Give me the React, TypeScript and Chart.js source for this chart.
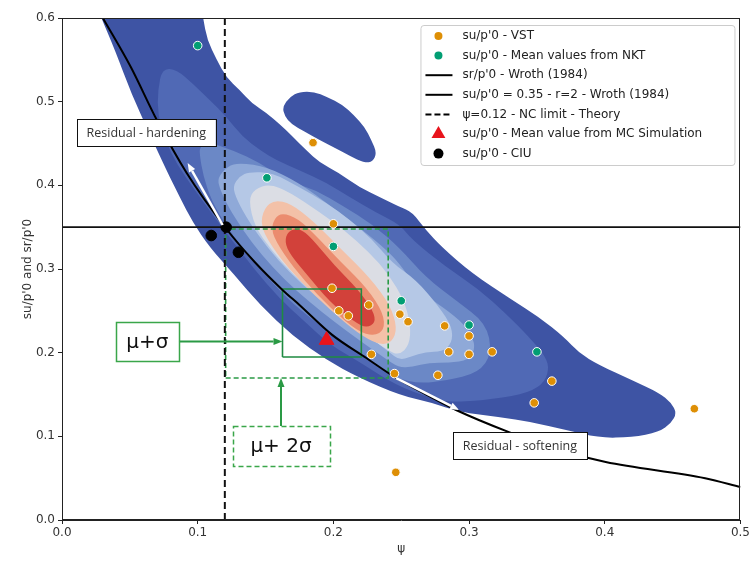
import React, { useEffect, useRef } from "react";
import { Chart, registerables } from "chart.js";

Chart.register(...registerables);

// ---------------- data ----------------
const VST_PSI = [0.185, 0.2, 0.199, 0.204, 0.211, 0.226, 0.228, 0.249, 0.255, 0.245, 0.282, 0.3, 0.285, 0.3, 0.317, 0.277, 0.361, 0.348, 0.466, 0.246];
const VST_SU = [0.451, 0.354, 0.277, 0.25, 0.244, 0.257, 0.198, 0.246, 0.237, 0.175, 0.232, 0.22, 0.201, 0.198, 0.201, 0.173, 0.166, 0.14, 0.133, 0.057];

const NKT_PSI = [0.1, 0.151, 0.2, 0.25, 0.3, 0.35];
const NKT_SU = [0.567, 0.409, 0.327, 0.262, 0.233, 0.201];

const CIU_PSI = [0.11, 0.121, 0.13];
const CIU_SU = [0.34, 0.35, 0.32];

const MC_PSI = [0.195];
const MC_SU = [0.215];

const WROTH_PSI = [0.0301, 0.0507, 0.0699, 0.0919, 0.1206, 0.142, 0.1625, 0.175, 0.1993, 0.2243, 0.2463, 0.2706, 0.2904, 0.3294, 0.366, 0.4007, 0.474, 0.5];
const WROTH_SR = [0.6, 0.5414, 0.478, 0.4147, 0.349, 0.3084, 0.275, 0.257, 0.221, 0.1936, 0.1697, 0.148, 0.1315, 0.105, 0.0837, 0.0693, 0.05, 0.0394];

const SU_CONST = 0.35;
const PSI_NC = 0.12;

const SIGMA_BOX_PSI = [0.1625, 0.2206];
const SIGMA_BOX_SU = [0.1948, 0.2761];
const SIGMA2_BOX_PSI = [0.1206, 0.2404];
const SIGMA2_BOX_SU = [0.1697, 0.3478];

const X_TICKS = [0, 0.1, 0.2, 0.3, 0.4, 0.5];
const Y_TICKS = [0, 0.1, 0.2, 0.3, 0.4, 0.5, 0.6];

// KDE contour outlines (psi, su), outer -> inner
type P = [number, number];
const KDE_L1_MAIN: P[] = [[0.024, 0.62], [0.102, 0.62], [0.104, 0.6], [0.107, 0.574], [0.114, 0.55], [0.121, 0.529], [0.131, 0.514], [0.14, 0.498], [0.151, 0.486], [0.16, 0.474], [0.17, 0.458], [0.18, 0.442], [0.19, 0.427], [0.204, 0.415], [0.219, 0.398], [0.234, 0.386], [0.249, 0.374], [0.258, 0.368], [0.268, 0.347], [0.28, 0.326], [0.302, 0.295], [0.3316, 0.263], [0.3515, 0.2426], [0.37, 0.2187], [0.381, 0.1996], [0.3956, 0.1853], [0.42, 0.167], [0.44, 0.152], [0.449, 0.14], [0.453, 0.128], [0.449, 0.116], [0.44, 0.105], [0.42, 0.099], [0.396, 0.098], [0.371, 0.108], [0.346, 0.117], [0.322, 0.123], [0.293, 0.129], [0.273, 0.14], [0.249, 0.149], [0.219, 0.17], [0.195, 0.191], [0.17, 0.22], [0.146, 0.257], [0.127, 0.293], [0.1088, 0.326], [0.0963, 0.356], [0.087, 0.385], [0.077, 0.418], [0.065, 0.46], [0.0515, 0.508], [0.039, 0.562], [0.029, 0.6]];
const KDE_L1_BLOB: P[] = [[0.1625, 0.494], [0.168, 0.506], [0.175, 0.512], [0.186, 0.512], [0.195, 0.506], [0.207, 0.496], [0.215, 0.484], [0.223, 0.47], [0.228, 0.454], [0.232, 0.439], [0.229, 0.428], [0.223, 0.427], [0.212, 0.435], [0.201, 0.445], [0.19, 0.454], [0.179, 0.464], [0.169, 0.473], [0.164, 0.483]];
const KDE_L2: P[] = [[0.074, 0.54], [0.0846, 0.538], [0.096, 0.522], [0.109, 0.502], [0.121, 0.482], [0.133, 0.458], [0.146, 0.442], [0.158, 0.43], [0.175, 0.418], [0.195, 0.403], [0.212, 0.386], [0.232, 0.367], [0.249, 0.353], [0.258, 0.3346], [0.283, 0.3024], [0.307, 0.276], [0.327, 0.247], [0.344, 0.219], [0.3566, 0.195], [0.359, 0.179], [0.354, 0.161], [0.339, 0.15], [0.31, 0.143], [0.285, 0.141], [0.271, 0.146], [0.246, 0.161], [0.219, 0.189], [0.197, 0.21], [0.179, 0.237], [0.16, 0.265], [0.142, 0.299], [0.125, 0.335], [0.111, 0.365], [0.098, 0.394], [0.085, 0.424], [0.076, 0.454], [0.0706, 0.484], [0.0706, 0.514]];
const KDE_L3: P[] = [[0.1015, 0.446], [0.109, 0.451], [0.126, 0.442], [0.146, 0.427], [0.165, 0.406], [0.1875, 0.394], [0.2066, 0.376], [0.229, 0.353], [0.2485, 0.326], [0.268, 0.29], [0.2906, 0.262], [0.3125, 0.2355], [0.317, 0.1996], [0.307, 0.1757], [0.283, 0.167], [0.264, 0.163], [0.245, 0.17], [0.226, 0.191], [0.208, 0.213], [0.19, 0.233], [0.171, 0.257], [0.153, 0.287], [0.137, 0.317], [0.122, 0.349], [0.11, 0.382], [0.104, 0.412], [0.1015, 0.436]];
const KDE_L4: P[] = [[0.1147, 0.409], [0.122, 0.423], [0.131, 0.427], [0.151, 0.422], [0.175, 0.403], [0.199, 0.374], [0.219, 0.35], [0.239, 0.323], [0.2485, 0.307], [0.261, 0.278], [0.273, 0.263], [0.29, 0.243], [0.3, 0.227], [0.305, 0.207], [0.3, 0.191], [0.285, 0.188], [0.2706, 0.188], [0.258, 0.183], [0.2485, 0.182], [0.2375, 0.194], [0.219, 0.215], [0.2007, 0.237], [0.182, 0.261], [0.164, 0.287], [0.147, 0.317], [0.133, 0.347], [0.122, 0.376], [0.116, 0.397]];
const KDE_L5: P[] = [[0.1257, 0.399], [0.131, 0.411], [0.138, 0.416], [0.155, 0.415], [0.175, 0.398], [0.195, 0.379], [0.212, 0.359], [0.229, 0.335], [0.2434, 0.307], [0.261, 0.287], [0.278, 0.2546], [0.2875, 0.2307], [0.2875, 0.2115], [0.28, 0.201], [0.268, 0.201], [0.257, 0.195], [0.2485, 0.191], [0.241, 0.201], [0.223, 0.2235], [0.2044, 0.245], [0.186, 0.269], [0.1676, 0.296], [0.1515, 0.325], [0.138, 0.356], [0.129, 0.382]];
const KDE_L6: P[] = [[0.1375, 0.3825], [0.142, 0.3956], [0.153, 0.4016], [0.1676, 0.392], [0.1897, 0.368], [0.208, 0.3466], [0.2265, 0.32], [0.241, 0.293], [0.252, 0.263], [0.257, 0.233], [0.256, 0.209], [0.2485, 0.197], [0.2397, 0.203], [0.2255, 0.2193], [0.207, 0.2433], [0.1887, 0.2673], [0.17, 0.2943], [0.154, 0.3233], [0.142, 0.3509]];
const KDE_L7: P[] = [[0.146, 0.3509], [0.149, 0.373], [0.1566, 0.3825], [0.1686, 0.3782], [0.185, 0.3577], [0.2054, 0.3244], [0.2275, 0.2885], [0.242, 0.2563], [0.247, 0.2295], [0.2434, 0.2127], [0.234, 0.209], [0.218, 0.223], [0.1975, 0.2513], [0.1755, 0.2853], [0.158, 0.3183]];
const KDE_L8: P[] = [[0.154, 0.3449], [0.1566, 0.361], [0.1625, 0.367], [0.1738, 0.3603], [0.1856, 0.3423], [0.2054, 0.3087], [0.225, 0.2767], [0.237, 0.2467], [0.2375, 0.227], [0.23, 0.22], [0.218, 0.2253], [0.198, 0.2529], [0.179, 0.2853], [0.163, 0.3183]];
const KDE_L9: P[] = [[0.164, 0.332], [0.1666, 0.3455], [0.175, 0.349], [0.1839, 0.3372], [0.2005, 0.3045], [0.2185, 0.275], [0.2295, 0.2495], [0.231, 0.236], [0.2245, 0.2295], [0.2155, 0.2365], [0.1975, 0.2605], [0.1809, 0.2925], [0.1685, 0.3165]];

const KDE_LEVELS: P[][][] = [[KDE_L1_MAIN, KDE_L1_BLOB], [KDE_L2], [KDE_L3], [KDE_L4], [KDE_L5], [KDE_L6], [KDE_L7], [KDE_L8], [KDE_L9]];
const KDE_COLORS = ["#3e54a4", "#5069b5", "#6b88c6", "#8fa9d8", "#b5c8e6", "#dbdde4", "#f3c1a8", "#eb8c6f", "#d2413a"];

// annotations (data coordinates)
const HARDENING_AT: P = [0.0621, 0.4631];
const SOFTENING_AT: P = [0.3375, 0.089];
const HARDENING_ARROW: P[] = [[0.1184, 0.3526], [0.0926, 0.4267]];
const SOFTENING_ARROW: P[] = [[0.2463, 0.1697], [0.2926, 0.1315]];
const SIGMA_LABEL_AT: P = [0.0629, 0.2133];
const SIGMA2_LABEL_AT: P = [0.1614, 0.0884];

const ORANGE = "#de8f05";
const GREEN = "#029e73";
const BOX_GREEN = "#2a9a45";
const RED = "#e8141c";

const LEGEND_ITEMS = [
  { label: "su/p'0 - VST", kind: "dot", color: ORANGE, r: 4 },
  { label: "su/p'0 - Mean values from NKT", kind: "dot", color: GREEN, r: 4 },
  { label: "sr/p'0 - Wroth (1984)", kind: "line", color: "#000", r: 0 },
  { label: "su/p'0 = 0.35 - r=2 - Wroth (1984)", kind: "line", color: "#000", r: 0 },
  { label: "ψ=0.12 - NC limit - Theory", kind: "dash", color: "#000", r: 0 },
  { label: "su/p'0 - Mean value from MC Simulation", kind: "tri", color: RED, r: 8 },
  { label: "su/p'0 - CIU", kind: "dot", color: "#000", r: 5 },
];

// ---------------- helpers ----------------
const pts = (xs: number[], ys: number[]) => xs.map((x, i) => ({ x, y: ys[i] }));
const rect = (xs: number[], ys: number[]) => [
  { x: xs[0], y: ys[0] }, { x: xs[1], y: ys[0] }, { x: xs[1], y: ys[1] }, { x: xs[0], y: ys[1] }, { x: xs[0], y: ys[0] },
];

function px(chart: any, p: P) {
  return { x: chart.scales.x.getPixelForValue(p[0]), y: chart.scales.y.getPixelForValue(p[1]) };
}

function smoothPath(ctx: CanvasRenderingContext2D, q: { x: number; y: number }[]) {
  const n = q.length;
  const mid = (a: any, b: any) => ({ x: (a.x + b.x) / 2, y: (a.y + b.y) / 2 });
  const m0 = mid(q[n - 1], q[0]);
  ctx.moveTo(m0.x, m0.y);
  for (let i = 0; i < n; i++) {
    const a = q[i];
    const b = q[(i + 1) % n];
    const m = mid(a, b);
    ctx.quadraticCurveTo(a.x, a.y, m.x, m.y);
  }
  ctx.closePath();
}

function arrow(ctx: CanvasRenderingContext2D, a: any, b: any, color: string, width: number, hl: number, hw: number) {
  const ang = Math.atan2(b.y - a.y, b.x - a.x);
  const bx = b.x - Math.cos(ang) * hl;
  const by = b.y - Math.sin(ang) * hl;
  ctx.save();
  ctx.strokeStyle = color;
  ctx.lineWidth = width;
  ctx.setLineDash([]);
  ctx.beginPath();
  ctx.moveTo(a.x, a.y);
  ctx.lineTo(bx, by);
  ctx.stroke();
  ctx.fillStyle = color;
  ctx.beginPath();
  ctx.moveTo(b.x, b.y);
  ctx.lineTo(bx + Math.sin(ang) * hw / 2, by - Math.cos(ang) * hw / 2);
  ctx.lineTo(bx - Math.sin(ang) * hw / 2, by + Math.cos(ang) * hw / 2);
  ctx.closePath();
  ctx.fill();
  ctx.restore();
}

function labelBox(ctx: CanvasRenderingContext2D, c: any, w: number, h: number, text: string, font: string, border: string, dashed: boolean, lw: number, color: string) {
  ctx.save();
  ctx.fillStyle = "#fff";
  ctx.fillRect(c.x - w / 2, c.y - h / 2, w, h);
  ctx.strokeStyle = border;
  ctx.lineWidth = lw;
  ctx.setLineDash(dashed ? [5, 3] : []);
  ctx.strokeRect(Math.round(c.x - w / 2) + 0.5, Math.round(c.y - h / 2) + 0.5, Math.round(w), Math.round(h));
  ctx.setLineDash([]);
  ctx.fillStyle = color;
  ctx.font = font;
  ctx.textAlign = "center";
  ctx.textBaseline = "middle";
  ctx.fillText(text, c.x, c.y + 1);
  ctx.restore();
}

const contourPlugin = {
  id: "kdeContours",
  beforeDatasetsDraw(chart: any) {
    const { ctx, chartArea: a } = chart;
    ctx.save();
    ctx.beginPath();
    ctx.rect(a.left, a.top, a.right - a.left, a.bottom - a.top);
    ctx.clip();
    KDE_LEVELS.forEach((shapes, i) => {
      ctx.fillStyle = KDE_COLORS[i];
      ctx.beginPath();
      shapes.forEach((s) => smoothPath(ctx, s.map((p) => px(chart, p))));
      ctx.fill();
    });
    ctx.restore();
  },
};

const annotationPlugin = {
  id: "annotations",
  afterDatasetsDraw(chart: any) {
    const { ctx } = chart;
    arrow(ctx, px(chart, HARDENING_ARROW[0]), px(chart, HARDENING_ARROW[1]), "#fff", 2.5, 9, 7);
    arrow(ctx, px(chart, SOFTENING_ARROW[0]), px(chart, SOFTENING_ARROW[1]), "#fff", 2.5, 9, 7);

    labelBox(ctx, px(chart, HARDENING_AT), 139, 27, "Residual - hardening", "12.5px 'Open Sans'", "#111", false, 1, "#333");
    labelBox(ctx, px(chart, SOFTENING_AT), 134, 27, "Residual - softening", "12.5px 'Open Sans'", "#111", false, 1, "#333");

    const s1 = px(chart, SIGMA_LABEL_AT);
    const s1w = 63, s1h = 39;
    const s1Target = px(chart, [SIGMA_BOX_PSI[0], SIGMA_LABEL_AT[1]]);
    arrow(ctx, { x: s1.x + s1w / 2, y: s1.y }, s1Target, BOX_GREEN, 2, 9, 7);
    labelBox(ctx, s1, s1w, s1h, "μ+σ", "20px 'DejaVu Sans'", "#3aa64a", false, 1.5, "#111");

    const s2 = px(chart, SIGMA2_LABEL_AT);
    const s2w = 97, s2h = 40;
    const s2Target = px(chart, [SIGMA2_LABEL_AT[0], SIGMA2_BOX_SU[0]]);
    arrow(ctx, { x: s2.x, y: s2.y - s2h / 2 }, s2Target, BOX_GREEN, 2, 9, 7);
    labelBox(ctx, s2, s2w, s2h, "μ+ 2σ", "20px 'DejaVu Sans'", "#3aa64a", true, 1.5, "#111");
  },
  afterDraw(chart: any) {
    const { ctx, chartArea: a } = chart;
    ctx.save();
    ctx.strokeStyle = "#222";
    ctx.lineWidth = 1;
    ctx.strokeRect(Math.round(a.left) + 0.5, Math.round(a.top) + 0.5, Math.round(a.right - a.left) - 1, Math.round(a.bottom - a.top) - 1);

    const w = 314, h = 140;
    const left = a.right - 6 - w;
    const top = a.top + 7;
    ctx.fillStyle = "rgba(255,255,255,0.85)";
    ctx.strokeStyle = "#cccccc";
    ctx.lineWidth = 1;
    ctx.beginPath();
    (ctx as any).roundRect(left + 0.5, top + 0.5, w, h, 3);
    ctx.fill();
    ctx.stroke();
    ctx.font = "12px 'DejaVu Sans'";
    ctx.textAlign = "left";
    ctx.textBaseline = "middle";
    LEGEND_ITEMS.forEach((it, i) => {
      const y = top + 11 + i * 19.6;
      const mx = left + 18;
      ctx.fillStyle = it.color;
      ctx.strokeStyle = it.color;
      if (it.kind === "dot") {
        ctx.beginPath();
        ctx.arc(mx, y, it.r, 0, Math.PI * 2);
        ctx.fill();
      } else if (it.kind === "tri") {
        const r = it.r;
        ctx.beginPath();
        ctx.moveTo(mx, y - r);
        ctx.lineTo(mx + r * 0.866, y + r * 0.5);
        ctx.lineTo(mx - r * 0.866, y + r * 0.5);
        ctx.closePath();
        ctx.fill();
      } else {
        ctx.lineWidth = 2;
        ctx.setLineDash(it.kind === "dash" ? [6, 3] : []);
        ctx.beginPath();
        ctx.moveTo(left + 5, y);
        ctx.lineTo(left + 32, y);
        ctx.stroke();
        ctx.setLineDash([]);
      }
      ctx.fillStyle = "#222";
      ctx.fillText(it.label, left + 42, y);
    });
    ctx.restore();
  },
};

export default function App() {
  const ref = useRef<HTMLCanvasElement | null>(null);

  useEffect(() => {
    if (!ref.current) return;
    Chart.defaults.font.family = "'DejaVu Sans', sans-serif";
    const chart = new Chart(ref.current, {
      type: "scatter",
      data: {
        datasets: [
          { label: "su/p'0 - CIU", data: pts(CIU_PSI, CIU_SU), backgroundColor: "#000", borderColor: "#000", pointRadius: 5.3, order: 0 },
          { label: "su/p'0 - Mean value from MC Simulation", data: pts(MC_PSI, MC_SU), pointStyle: "triangle", backgroundColor: RED, borderColor: RED, pointRadius: 8.5, order: 1 },
          { label: "su/p'0 - VST", data: pts(VST_PSI, VST_SU), backgroundColor: ORANGE, borderColor: "#ffffff", borderWidth: 1, pointRadius: 4.3, order: 2 },
          { label: "su/p'0 - Mean values from NKT", data: pts(NKT_PSI, NKT_SU), backgroundColor: GREEN, borderColor: "#ffffff", borderWidth: 1, pointRadius: 4.3, order: 3 },
          { label: "sr/p'0 - Wroth (1984)", data: pts(WROTH_PSI, WROTH_SR), showLine: true, borderColor: "#000", borderWidth: 2, pointRadius: 0, cubicInterpolationMode: "monotone", order: 5 } as any,
          { label: "su/p'0 = 0.35 - r=2 - Wroth (1984)", data: [{ x: X_TICKS[0], y: SU_CONST }, { x: X_TICKS[X_TICKS.length - 1], y: SU_CONST }], showLine: true, borderColor: "#111", borderWidth: 1.6, pointRadius: 0, order: 6 },
          { label: "ψ=0.12 - NC limit - Theory", data: [{ x: PSI_NC, y: Y_TICKS[0] }, { x: PSI_NC, y: Y_TICKS[Y_TICKS.length - 1] }], showLine: true, borderColor: "#111", borderWidth: 2, borderDash: [7, 4], pointRadius: 0, order: 7 },
          { label: "mu+sigma", data: rect(SIGMA_BOX_PSI, SIGMA_BOX_SU), showLine: true, borderColor: "#1f8a42", borderWidth: 1.6, pointRadius: 0, order: 8 },
          { label: "mu+2sigma", data: rect(SIGMA2_BOX_PSI, SIGMA2_BOX_SU), showLine: true, borderColor: "#2a9a45", borderWidth: 1.6, borderDash: [5, 3], pointRadius: 0, order: 9 },
        ],
      },
      options: {
        animation: false,
        responsive: false,
        maintainAspectRatio: false,
        layout: { padding: { top: 18, right: 10, left: 0, bottom: 0 } },
        plugins: { legend: { display: false }, tooltip: { enabled: false } },
        scales: {
          x: {
            type: "linear",
            min: X_TICKS[0],
            max: X_TICKS[X_TICKS.length - 1],
            afterBuildTicks: (s: any) => { s.ticks = X_TICKS.map((v) => ({ value: v })); },
            afterFit: (s: any) => { s.height = 41; },
            ticks: { callback: (v: any) => Number(v).toFixed(1), color: "#333", font: { size: 12 }, padding: 2, maxRotation: 0 },
            grid: { display: true, drawOnChartArea: false, drawTicks: true, tickLength: 4, color: "#222" },
            border: { display: true, color: "#222", width: 1 },
            title: { display: true, text: "ψ", color: "#333", font: { size: 12 }, padding: { top: 0, bottom: 5 } },
          },
          y: {
            type: "linear",
            min: Y_TICKS[0],
            max: Y_TICKS[Y_TICKS.length - 1],
            afterBuildTicks: (s: any) => { s.ticks = Y_TICKS.map((v) => ({ value: v })); },
            afterFit: (s: any) => { s.width = 62; },
            ticks: { callback: (v: any) => Number(v).toFixed(1), color: "#333", font: { size: 12 }, padding: 3 },
            grid: { display: true, drawOnChartArea: false, drawTicks: true, tickLength: 4, color: "#222" },
            border: { display: true, color: "#222", width: 1 },
            title: { display: true, text: "su/p'0 and sr/p'0", color: "#333", font: { size: 12 }, padding: { top: 21, bottom: 0 } },
          },
        },
      },
      plugins: [contourPlugin, annotationPlugin],
    } as any);
    return () => chart.destroy();
  }, []);

  return (
    <div style={{ position: "absolute", left: 0, top: 0, width: 752, height: 561, background: "#fff" }}>
      <canvas ref={ref} width={752} height={561} style={{ width: 752, height: 561, display: "block" }} />
    </div>
  );
}
